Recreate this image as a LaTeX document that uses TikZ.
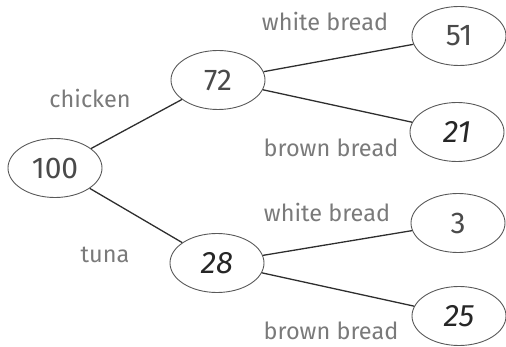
\documentclass[tikz,border=0pt]{standalone}
\usepackage{fontspec}
\setmainfont{Fira Sans}
\usetikzlibrary{shapes.geometric}
\definecolor{lbl}{HTML}{7A7A7A}
\definecolor{num}{HTML}{4A4A4A}
\definecolor{edge}{HTML}{2E2E2E}
\begin{document}
\begin{tikzpicture}[x=1pt,y=-1pt,
  val/.style={ellipse,draw=black!65,line width=0.9pt,inner sep=0pt,minimum width=94pt,minimum height=59pt,text=num,font=\fontsize{30}{32}\selectfont},
  hand/.style={val,text=black!85,font=\fontsize{31}{32}\itshape\selectfont},
  lab/.style={text=lbl,font=\fontsize{23.5}{26}\selectfont,inner sep=0pt},
  conn/.style={draw=edge,line width=1.3pt}]
\useasboundingbox (0,0) rectangle (506,347);
\node[val] (n100) at (55,168) {100};
\node[val] (n72) at (218,80) {72};
\node[hand] (n28) at (217,263) {28};
\node[val] (n51) at (459,36) {51};
\node[hand] (n21) at (457,132) {21};
\node[val] (n3) at (458,223) {3};
\node[hand] (n25) at (459,316) {25};
\node[lab] (lchicken) at (90,98) {chicken};
\node[lab] (ltuna) at (105,255) {tuna};
\node[lab] (lwb1) at (325,21) {white bread};
\node[lab] (lbb1) at (331,148) {brown bread};
\node[lab] (lwb2) at (327,212) {white bread};
\node[lab] (lbb2) at (331,331) {brown bread};
\draw[conn] (n100) -- (n72);
\draw[conn] (n100) -- (n28);
\draw[conn] (n72) -- (n51);
\draw[conn] (n72) -- (n21);
\draw[conn] (n28) -- (n3);
\draw[conn] (n28) -- (n25);
\end{tikzpicture}
\end{document}
